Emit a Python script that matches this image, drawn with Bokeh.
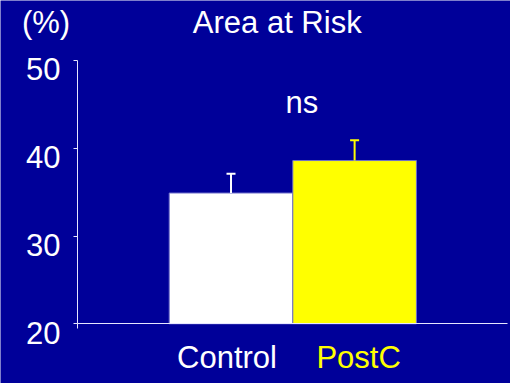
from bokeh.plotting import figure
from bokeh.models import (Range1d, FixedTicker, LabelSet, ColumnDataSource,
                          CustomLabelingPolicy)
from bokeh.core.properties import value
from bokeh.embed import file_html
from bokeh.resources import INLINE

# ---- data ----
groups = ["Control", "PostC"]
values = [34.9, 38.6]
errors = [2.2, 2.3]
y_ticks = [20, 30, 40, 50]
title_text = "Area at Risk"
unit_text = "(%)"
sig_text = "ns"

# ---- style / layout ----
BG = "#000099"
FONT = value("Liberation Sans")
FS = value("31px")
bar_colors = ["#ffffff", "#ffff00"]
AXIS_COLOR = "#e6e6ff"
W, H = 510, 383

# scale: one bar = 123.6 px wide, 10 % = 87.8 px; y axis at x=0 (px 77), value 20 at px 323.3
PX_X = 123.6
PX_Y = 8.777
y0 = min(y_ticks)
y1 = max(y_ticks)
x_lo = -77.0 / PX_X
x_hi = x_lo + W / PX_X
y_lo = y0 - (H - 323.3) / PX_Y
y_hi = y_lo + H / PX_Y
x_axis_end = (506.7 - 77.0) / PX_X

xs = [0.742 + 0.5 + i for i in range(len(groups))]
tops = [v + e for v, e in zip(values, errors)]

p = figure(width=W, height=H, output_backend="svg", toolbar_location=None,
           x_range=Range1d(x_lo, x_hi), y_range=Range1d(y_lo, y_hi),
           min_border=0)
p.background_fill_color = BG
p.border_fill_color = BG
p.outline_line_color = None
p.grid.visible = False

src = ColumnDataSource(dict(x=xs, top=values, upper=tops, color=bar_colors, name=groups))
p.vbar(x="x", top="top", bottom=y0, width=1.0, fill_color="color", line_color="#7070cc",
       line_width=1, source=src)
p.segment(x0="x", y0="top", x1="x", y1="upper", line_color="color", line_width=2, source=src)
p.scatter(x="x", y="upper", marker="dash", size=9, line_color="color", line_width=2, source=src)

no_labels = CustomLabelingPolicy(code="""
    for (const i of indices) indices.unset(i)
    return indices
""")

# axes, fixed inside the canvas
p.yaxis.fixed_location = 0
p.yaxis.bounds = (y0, y1)
p.yaxis.ticker = FixedTicker(ticks=y_ticks)
p.yaxis.major_label_policy = no_labels
p.yaxis.major_tick_out = 4
p.yaxis.major_tick_in = 0
p.yaxis.minor_tick_line_color = None
p.yaxis.axis_line_color = AXIS_COLOR
p.yaxis.major_tick_line_color = AXIS_COLOR

p.xaxis.fixed_location = y0
p.xaxis.bounds = (0, x_axis_end)
p.xaxis.ticker = FixedTicker(ticks=[0])
p.xaxis.major_label_policy = no_labels
p.xaxis.major_tick_out = 5
p.xaxis.major_tick_in = 0
p.xaxis.minor_tick_line_color = None
p.xaxis.axis_line_color = AXIS_COLOR
p.xaxis.major_tick_line_color = AXIS_COLOR

common = dict(text_baseline="alphabetic", text_font=FONT, text_font_size=FS)

# y tick labels (sit below their ticks, as in the original)
tick_src = ColumnDataSource(dict(y=y_ticks, text=[str(t) for t in y_ticks]))
p.add_layout(LabelSet(x=0, y="y", text="text", source=tick_src, x_offset=-17, y_offset=-20,
                      text_align="right", text_color="#ffffff", **common))

# category labels
cat_src = ColumnDataSource(dict(x=xs, text=groups, color=bar_colors, xo=[-4, 4]))
p.add_layout(LabelSet(x="x", y=y0, text="text", source=cat_src, x_offset="xo", y_offset=-43.8,
                      text_align="center", text_color="color", **common))

# title and unit, above the top of the axis
head_src = ColumnDataSource(dict(x=[1.616, -0.255], text=[title_text, unit_text]))
p.add_layout(LabelSet(x="x", y=y1, text="text", source=head_src, y_offset=27.7,
                      text_align="center", text_color="#ffffff", **common))

# significance mark
sig_src = ColumnDataSource(dict(x=[1.816], y=[44.06], text=[sig_text]))
p.add_layout(LabelSet(x="x", y="y", text="text", source=sig_src,
                      text_align="center", text_color="#ffffff", **common))

open("out.html", "w").write(file_html(p, INLINE))
